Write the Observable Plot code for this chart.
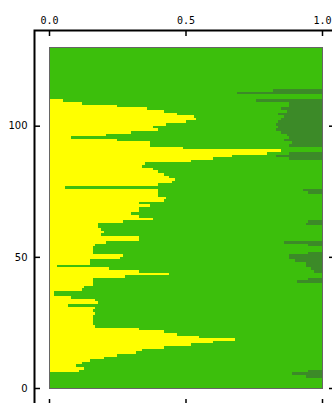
<!DOCTYPE html>
<html><head><meta charset="utf-8">
<script src="https://cdn.jsdelivr.net/npm/d3@7"></script>
<script src="https://cdn.jsdelivr.net/npm/@observablehq/plot@0.6"></script>
<style>body{margin:0;background:#fff}</style>
</head><body><div id="chart"></div>
<script>
// Ancestry fraction per row (rows 0..129, bottom to top)
const yellow = [
  0,0,0,0,0,0,0.11,0.13,0.10,0.12,
  0.15,0.20,0.25,0.32,0.34,0.42,0.52,0.60,0.68,0.55,
  0.47,0.42,0.33,0.17,0.16,0.16,0.16,0.16,0.17,0.16,
  0.17,0.07,0.18,0.17,0.08,0.02,0.02,0.12,0.13,0.16,
  0.16,0.16,0.28,0.44,0.33,0.22,0.03,0.15,0.15,0.26,
  0.27,0.16,0.16,0.16,0.17,0.21,0.33,0.33,0.19,0.20,
  0.19,0.18,0.18,0.27,0.38,0.33,0.30,0.33,0.33,0.37,
  0.33,0.42,0.43,0.40,0.40,0.40,0.06,0.40,0.45,0.46,
  0.44,0.42,0.40,0.38,0.34,0.35,0.52,0.60,0.67,0.80,
  0.85,0.49,0.37,0.37,0.25,0.08,0.21,0.30,0.40,0.38,
  0.43,0.50,0.54,0.53,0.47,0.42,0.36,0.25,0.12,0.05,
  0,0,0,0,0,0,0,0,0,0,
  0,0,0,0,0,0,0,0,0,0
];
const darkGreen = [
  0,0,0,0,0.06,0.11,0.05,0,0,0,
  0,0,0,0,0,0,0,0,0,0,
  0,0,0,0,0,0,0,0,0,0,
  0,0,0,0,0,0,0,0,0,0,
  0.09,0.05,0,0,0.03,0.04,0.06,0.06,0.10,0.12,
  0.12,0.05,0,0,0.05,0.14,0,0,0,0,
  0,0,0.06,0.05,0,0,0,0,0,0,
  0,0,0,0,0.05,0.07,0,0,0,0,
  0,0,0,0,0,0,0,0.12,0.17,0.12,
  0,0,0.12,0.11,0.14,0.12,0.13,0.15,0.17,0.16,
  0.17,0.16,0.15,0.14,0.16,0.13,0.15,0.12,0.12,0.24,
  0,0,0.31,0.18,0,0,0,0,0,0,
  0,0,0,0,0,0,0,0,0,0
];
const xTicks = [0, 0.5, 1];
const yTicks = [0, 50, 100];
const layers = ["K1", "K2", "K3"];
const colors = ["#ffff00", "#3cbf0c", "#3c8a28"];

const rows = [];
yellow.forEach((yv, i) => {
  const d = darkGreen[i];
  rows.push({row: i, layer: "K1", value: yv});
  rows.push({row: i, layer: "K2", value: 1 - yv - d});
  rows.push({row: i, layer: "K3", value: d});
});

const chart = Plot.plot({
  width: 332, height: 403,
  marginLeft: 34, marginTop: 30, marginRight: -1, marginBottom: -1,
  x: {domain: [0, 1], insetLeft: 15, insetRight: 11, label: null},
  y: {domain: [0, 130], insetTop: 17, insetBottom: 16, label: null},
  color: {type: "ordinal", domain: layers, range: colors},
  style: {fontFamily: "'DejaVu Sans', sans-serif", fontSize: "10px", background: "white", overflow: "visible"},
  marks: [
    Plot.rectX(rows, Plot.stackX({y1: "row", y2: (d) => d.row + 1, x: "value", fill: "layer", inset: 0, insetTop: 0, insetBottom: 0, insetLeft: 0, insetRight: 0, shapeRendering: "crispEdges"})),
    Plot.frame({stroke: "#666", strokeWidth: 1, insetLeft: 15, insetTop: 17, insetRight: 11, insetBottom: 16}),
    Plot.frame({stroke: "black", strokeWidth: 2}),
    Plot.axisX(xTicks, {anchor: "top", tickSize: 0, tickPadding: 7, tickFormat: d3.format(".1f"), fontFamily: "'DejaVu Sans Mono', monospace", fontSize: 10}),
    Plot.axisX(xTicks, {anchor: "top", tickSize: 5, dy: 5, fill: "none", strokeWidth: 1.5}),
    Plot.axisX(xTicks, {anchor: "bottom", tickSize: 5, dy: -5, fill: "none", strokeWidth: 1.5}),
    Plot.axisY(yTicks, {anchor: "left", tickSize: 0, tickPadding: 7, fontSize: 10}),
    Plot.axisY(yTicks, {anchor: "left", tickSize: 6, dx: 6, fill: "none", strokeWidth: 1.5}),
    Plot.axisY(yTicks, {anchor: "right", tickSize: 5, dx: -5, fill: "none", strokeWidth: 1.5})
  ]
});
document.getElementById("chart").appendChild(chart);
</script>
</body></html>
